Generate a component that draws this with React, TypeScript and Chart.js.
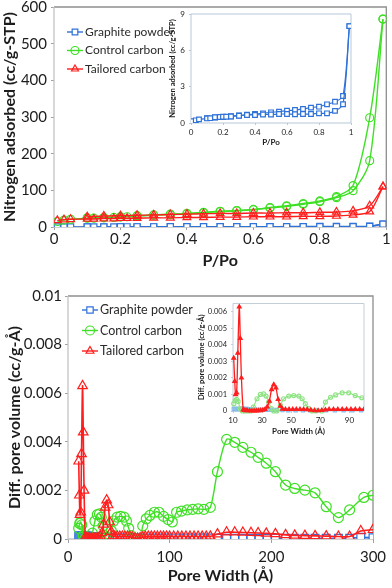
import React, { useEffect, useRef } from "react";
import { Chart, registerables } from "chart.js";

Chart.register(...registerables);

const FONT = "Lato, 'Open Sans', sans-serif";
const INK = "#1c1c1c";
const BLUE = "#2f72d8";
const GREEN = "#3ee024";
const RED = "#ff1e1e";
const LIGHT_BLUE = "#86bcec";
const LIGHT_GREEN = "#8fe384";
const NONE = "rgba(255,255,255,0)";

Chart.defaults.font.family = FONT;
Chart.defaults.color = INK;

const SERIES_NAMES = ["Graphite powder", "Control carbon", "Tailored carbon"];

// ---------- Top: nitrogen isotherms ----------
const P_ADS = [0.01, 0.03, 0.05, 0.1, 0.12, 0.15, 0.18, 0.2, 0.22, 0.25, 0.3, 0.35, 0.4, 0.45, 0.5, 0.55, 0.6, 0.65, 0.7, 0.75, 0.8, 0.85, 0.9, 0.95, 0.99];
const P_DES = [0.99, 0.95, 0.9, 0.85, 0.8, 0.75, 0.7, 0.65, 0.6, 0.55, 0.5, 0.45, 0.4, 0.35, 0.3, 0.25, 0.2, 0.15, 0.1];
const GRAPHITE_ADS = [0.15, 0.22, 0.3, 0.38, 0.4, 0.47, 0.5, 0.52, 0.52, 0.54, 0.6, 0.66, 0.66, 0.7, 0.7, 0.74, 0.74, 0.72, 0.74, 0.74, 0.8, 0.8, 1.0, 1.55, 8.0];
const GRAPHITE_DES = [8.0, 2.23, 1.76, 1.54, 1.35, 1.27, 1.16, 1.07, 1.02, 0.94, 0.88, 0.8, 0.74, 0.68, 0.62, 0.56, 0.5, 0.45, 0.4];
const CONTROL_ADS = [15, 19, 21, 24, 24, 25, 26, 27, 28, 30, 32, 34, 36, 39, 42, 44, 47, 52, 56, 62, 69, 80, 99, 181, 567];
const CONTROL_DES = [567, 298, 113, 83, 71, 64, 58, 53, 48, 45, 43, 40, 37, 35, 33, 31, 28, 26, 25];
const TAILORED_ADS = [18, 20, 21, 22, 22, 23, 23, 24, 24, 24, 25, 25, 26, 26, 27, 27, 28, 28, 28, 29, 29, 30, 33, 42, 110];
const TAILORED_DES = [110, 58, 44, 41, 40, 39, 39, 38, 38, 37, 37, 36, 35, 34, 33, 32, 31, 30, 28];

const ISO_X_TICKS = [0, 0.2, 0.4, 0.6, 0.8, 1];
const ISO_Y_TICKS = [0, 100, 200, 300, 400, 500, 600];
const ISO_INSET_Y_TICKS = [0, 3, 6, 9];

// ---------- Bottom: pore size distribution ----------
const CONTROL_W = [10.5, 11.5, 12.5, 13.5, 15, 16.5, 18, 20, 22, 24, 26.5, 28.8, 31, 32.7, 34.5, 36.4, 38, 40, 42.6, 44.8, 48.3, 51.7, 55.2, 57.5, 59.7, 62, 64.3, 67, 71, 73.5, 77, 80.5, 85, 89.5, 94, 98.5, 102.6, 106.8, 111.7, 117.3, 122.5, 128, 133.6, 140, 147, 156, 164, 172, 180, 187, 195, 204, 214, 223, 233, 243, 254, 266, 277, 291, 300];
const CONTROL_V = [0.00044, 0.00064, 0.0007, 0.00058, 0.00014, 0, 0, 0, 0, 0.00024, 0.00074, 0.001, 0.00103, 0.0009, 0.00054, 0.00014, 0, 0, 0.00034, 0.00074, 0.0009, 0.00093, 0.0009, 0.00074, 0.00044, 0.00014, 0, 0, 0, 0.00054, 0.00083, 0.00097, 0.0011, 0.0011, 0.00093, 0.0008, 0.0007, 0.0011, 0.00115, 0.0012, 0.00122, 0.00124, 0.00122, 0.0013, 0.00277, 0.0041, 0.00398, 0.00377, 0.00357, 0.00336, 0.00312, 0.00277, 0.00222, 0.00208, 0.00201, 0.0019, 0.00133, 0.00088, 0.0012, 0.00171, 0.0018];

const TAILORED_W = [10.5, 11.2, 11.8, 12.5, 13.3, 14.3, 15, 15.8, 17, 18, 19, 20, 21.5, 23, 24.5, 26, 27.5, 29, 30.5, 32, 33.5, 35, 36.5, 38, 39.5, 41, 42.5, 44, 46, 48.5, 51, 53.5, 56, 58.5, 61, 63.5, 66, 68.5, 71, 73.5, 76, 79, 82, 85, 88, 91, 94, 97, 100, 104, 108, 112, 116, 120, 124, 128, 132, 136, 140, 147, 156, 164, 172, 180, 187, 195, 204, 214, 223, 233, 243, 254, 266, 277, 288, 300];
const TAILORED_V = [0.0032, 0.0018, 0.001, 0.0011, 0.0035, 0.0063, 0.0044, 0.002, 0.00008, 0.00004, 0.00003, 0.00002, 0.00002, 0.00001, 0.00001, 0.00001, 0.00002, 0.00003, 0.00005, 0.0001, 0.00025, 0.0006, 0.0013, 0.0016, 0.0014, 0.0007, 0.0003, 0.00012, 0.0001, 0.0001, 0.0001, 0.0001, 0.0001, 0.0001, 0.00009, 0.00006, 0.00003, 0.00002, 0.00004, 0.00007, 0.0001, 0.0001, 0.0001, 0.0001, 0.0001, 0.0001, 0.0001, 0.0001, 0.0001, 0.0001, 0.0001, 0.0001, 0.0001, 0.0001, 0.0001, 0.0001, 0.0001, 0.0001, 0.00011, 0.0002, 0.00028, 0.00028, 0.00027, 0.00026, 0.00025, 0.00023, 0.00021, 0.00017, 0.00015, 0.00014, 0.00013, 0.00012, 0.0001, 0.0001, 0.00033, 0.00038];

const GRAPHITE_W = [10.5, 11.5, 12.5, 13.5, 14.5, 15.5, 16.5, 17.5, 18.5, 19.5, 21, 23, 25, 28, 31, 34, 37, 40, 44, 48, 53, 58, 63, 68, 74, 80, 86, 92, 98, 104, 110, 116, 122, 128, 134, 140, 147, 156, 164, 172, 180, 188, 196, 204, 214, 223, 233, 243, 254, 266, 277, 288, 300];
const GRAPHITE_V = [0.00012, 0.00012, 0.00012, 0.00012, 0.00012, 0.00012, 0.00012, 0.00012, 0.00012, 0.00012, 0.0001, 0.0001, 0.00009, 0.00008, 0.00008, 0.00007, 0.00007, 0.00006, 0.00005, 0.00004, 0.00004, 0.00004, 0.00004, 0.00004, 0.00004, 0.00004, 0.00004, 0.00004, 0.00004, 0.00004, 0.00004, 0.00004, 0.00004, 0.00004, 0.00004, 0.00004, 0.00003, 0.00003, 0.00003, 0.00003, 0.00003, 0.00003, 0.00003, 0.00003, 0.00003, 0.00003, 0.00003, 0.00003, 0.00003, 0.00003, 0.00003, 0.00007, 0.00005];

const PORE_X_TICKS = [0, 100, 200, 300];
const PORE_Y_TICKS = [0, 0.002, 0.004, 0.006, 0.008, 0.01];
const PORE_INSET_X_TICKS = [10, 30, 50, 70, 90];
const PORE_INSET_Y_TICKS = [0, 0.001, 0.002, 0.003, 0.004, 0.005, 0.006];

// ---------- helpers ----------
const fmt = (v: any) => String(Number(Number(v).toPrecision(6)));
const pts = (xs: number[], ys: number[]) => xs.map((x, i) => ({ x, y: ys[i] }));

function series(data: any[], color: string, style: string, r: number, lw: number, fill: string, extra: any = {}) {
  return {
    data,
    showLine: true,
    borderColor: color,
    backgroundColor: color,
    borderWidth: lw,
    tension: 0.3,
    pointStyle: style,
    pointRadius: r,
    pointHoverRadius: r,
    pointBorderColor: color,
    pointBackgroundColor: fill,
    pointBorderWidth: 1.2,
    ...extra,
  };
}

function axis(o: any) {
  return {
    type: "linear",
    min: o.min,
    max: o.max,
    afterBuildTicks: (s: any) => {
      s.ticks = o.ticks.map((v: number) => ({ value: v }));
    },
    afterFit: (s: any) => {
      if (o.w !== undefined) s.width = o.w;
      if (o.h !== undefined) s.height = o.h;
    },
    ticks: { font: { family: FONT, size: o.fs }, color: INK, padding: o.tp, callback: fmt, autoSkip: false, maxRotation: 0, minRotation: 0 },
    grid: { drawOnChartArea: false, drawTicks: true, tickLength: o.tl, color: o.gc || "#a0a0a0" },
    border: { display: false },
    title: { display: true, text: o.title, color: INK, font: { family: FONT, size: o.tfs, weight: "bold" }, padding: o.tpad },
  };
}

const framePlugin = {
  id: "frame",
  beforeDatasetsDraw(chart: any, _a: any, o: any) {
    if (!o || !o.outer) return;
    const { left, top, right, bottom } = chart.chartArea;
    const ctx = chart.ctx;
    ctx.save();
    ctx.lineWidth = o.width || 1;
    ctx.strokeStyle = o.outer;
    ctx.beginPath();
    ctx.moveTo(left, top);
    ctx.lineTo(right, top);
    ctx.lineTo(right, bottom);
    ctx.stroke();
    ctx.strokeStyle = o.axes || o.outer;
    ctx.beginPath();
    ctx.moveTo(left, top);
    ctx.lineTo(left, bottom);
    ctx.lineTo(right, bottom);
    ctx.stroke();
    ctx.restore();
  },
};

function drawMarker(ctx: CanvasRenderingContext2D, style: string, x: number, y: number, r: number, color: string) {
  ctx.save();
  ctx.strokeStyle = color;
  ctx.lineWidth = 1.2;
  ctx.fillStyle = "#fff";
  ctx.beginPath();
  if (style === "rect") {
    const s = r * Math.SQRT1_2;
    ctx.rect(x - s, y - s, 2 * s, 2 * s);
    ctx.fill();
  } else if (style === "circle") {
    ctx.arc(x, y, r, 0, Math.PI * 2);
  } else {
    for (let k = 0; k < 3; k++) {
      const a = -Math.PI / 2 + (k * 2 * Math.PI) / 3;
      const px = x + r * Math.cos(a);
      const py = y + r * Math.sin(a);
      if (k === 0) ctx.moveTo(px, py);
      else ctx.lineTo(px, py);
    }
    ctx.closePath();
  }
  ctx.stroke();
  ctx.restore();
}

const keyPlugin = {
  id: "key",
  afterDraw(chart: any, _a: any, o: any) {
    if (!o || !o.items) return;
    const ctx = chart.ctx;
    o.items.forEach((it: any, i: number) => {
      const y = o.y + i * o.gap;
      ctx.save();
      ctx.strokeStyle = it.color;
      ctx.lineWidth = o.lw;
      ctx.beginPath();
      ctx.moveTo(o.x, y);
      ctx.lineTo(o.x + o.len, y);
      ctx.stroke();
      drawMarker(ctx, it.style, o.x + o.len / 2, y, o.r, it.color);
      ctx.fillStyle = "#2a2a2a";
      ctx.font = `${o.size}px ${FONT}`;
      ctx.textBaseline = "middle";
      ctx.textAlign = "left";
      ctx.fillText(it.label, o.x + o.len + o.gapText, y);
      ctx.restore();
    });
  },
};

const KEY_ITEMS = [
  { label: SERIES_NAMES[0], color: BLUE, style: "rect" },
  { label: SERIES_NAMES[1], color: GREEN, style: "circle" },
  { label: SERIES_NAMES[2], color: RED, style: "triangle" },
];

function baseOptions(padding: any) {
  return {
    animation: false,
    responsive: false,
    maintainAspectRatio: false,
    events: [],
    layout: { padding },
  };
}

// ---------- chart configs ----------
function topMainConfig(): any {
  return {
    type: "scatter",
    data: {
      datasets: [
        series(pts(P_ADS, TAILORED_ADS), RED, "triangle", 4.5, 1.4, NONE),
        series(pts(P_DES, TAILORED_DES), RED, "triangle", 4.5, 1.4, NONE),
        series(pts(P_ADS, CONTROL_ADS), GREEN, "circle", 4, 1.4, NONE),
        series(pts(P_DES, CONTROL_DES), GREEN, "circle", 4, 1.4, NONE),
        series(pts(P_ADS, GRAPHITE_ADS), BLUE, "rect", 4.3, 1.4, "#fff"),
        series(pts(P_DES, GRAPHITE_DES), BLUE, "rect", 4.3, 1.4, "#fff"),
      ],
    },
    options: {
      ...baseOptions({ top: 17, right: 5, left: 0, bottom: 0 }),
      plugins: {
        legend: { display: false },
        tooltip: { enabled: false },
        frame: { outer: "#8e8e8e", axes: "#c4c4c4", width: 1.3 },
        key: { items: KEY_ITEMS, x: 67, y: 42, gap: 18.5, len: 16, lw: 1.4, r: 4, size: 12, gapText: 2 },
      },
      scales: {
        x: axis({ min: 0, max: 1, ticks: ISO_X_TICKS, fs: 15, tp: 0, tl: 3, title: "P/Po", tfs: 16, tpad: { top: 0, bottom: 15 }, h: 58 }),
        y: axis({ min: 0, max: 600, ticks: ISO_Y_TICKS, fs: 15, tp: 4, tl: 3, title: "Nitrogen adsorbed (cc/g-STP)", tfs: 16, tpad: { top: 0, bottom: 0 }, w: 54 }),
      },
    },
    plugins: [framePlugin, keyPlugin],
  };
}

function topInsetConfig(): any {
  return {
    type: "scatter",
    data: {
      datasets: [
        series(pts(P_ADS, GRAPHITE_ADS), BLUE, "rect", 3.3, 1.2, "#fff"),
        series(pts(P_DES, GRAPHITE_DES), BLUE, "rect", 3.3, 1.2, "#fff"),
      ],
    },
    options: {
      ...baseOptions({ top: 9, right: 9, left: 0, bottom: 0 }),
      plugins: {
        legend: { display: false },
        tooltip: { enabled: false },
        frame: { outer: "#b7c7d8", axes: "#b7c7d8", width: 1 },
      },
      scales: {
        x: axis({ min: 0, max: 1, ticks: ISO_X_TICKS, fs: 8, tp: 3, tl: 2, gc: "#b7c7d8", title: "P/Po", tfs: 8, tpad: { top: 0, bottom: 3 }, h: 27 }),
        y: axis({ min: 0, max: 9, ticks: ISO_INSET_Y_TICKS, fs: 8, tp: 4, tl: 2, gc: "#b7c7d8", title: "Nitrogen adsorbed (cc/g-STP)", tfs: 7.5, tpad: { top: 8, bottom: 0 }, w: 31 }),
      },
    },
    plugins: [framePlugin],
  };
}

function bottomMainConfig(): any {
  return {
    type: "scatter",
    data: {
      datasets: [
        series(pts(TAILORED_W, TAILORED_V), RED, "triangle", 5.5, 1.6, NONE),
        series(pts(CONTROL_W, CONTROL_V), GREEN, "circle", 5, 1.4, NONE),
        series(pts(GRAPHITE_W, GRAPHITE_V), BLUE, "rect", 5.5, 1.6, "#fff"),
      ],
    },
    options: {
      ...baseOptions({ top: 16, right: 19, left: 0, bottom: 0 }),
      plugins: {
        legend: { display: false },
        tooltip: { enabled: false },
        frame: { outer: "#8e8e8e", axes: "#c4c4c4", width: 1.3 },
        key: { items: KEY_ITEMS, x: 82, y: 30, gap: 20.5, len: 16, lw: 1.4, r: 4.5, size: 12.5, gapText: 2 },
      },
      scales: {
        x: axis({ min: 0, max: 300, ticks: PORE_X_TICKS, fs: 15, tp: 5, tl: 4, title: "Pore Width (Å)", tfs: 16, tpad: { top: 0, bottom: 3 }, h: 49 }),
        y: axis({ min: 0, max: 0.01, ticks: PORE_Y_TICKS, fs: 15, tp: 3, tl: 3, title: "Diff. pore volume (cc/g-Å)", tfs: 16, tpad: { top: 5, bottom: 0 }, w: 68 }),
      },
    },
    plugins: [framePlugin, keyPlugin],
  };
}

function bottomInsetConfig(): any {
  const clip = { left: 3, top: 3, right: 0, bottom: 3 };
  return {
    type: "scatter",
    data: {
      datasets: [
        series(pts(TAILORED_W, TAILORED_V), RED, "triangle", 2.2, 1.3, RED, { clip }),
        series(pts(CONTROL_W, CONTROL_V), LIGHT_GREEN, "circle", 2, 1.1, NONE, { clip }),
        series(pts(GRAPHITE_W, GRAPHITE_V), LIGHT_BLUE, "rect", 2.2, 1.1, NONE, { clip }),
      ],
    },
    options: {
      ...baseOptions({ top: 7, right: 8, left: 0, bottom: 0 }),
      plugins: {
        legend: { display: false },
        tooltip: { enabled: false },
        frame: { outer: "#c3ced9", axes: "#c3ced9", width: 1 },
      },
      scales: {
        x: axis({ min: 10, max: 100, ticks: PORE_INSET_X_TICKS, fs: 8, tp: 3, tl: 2, gc: "#c3ced9", title: "Pore Width (Å)", tfs: 8, tpad: { top: 0, bottom: 4 }, h: 29 }),
        y: axis({ min: 0, max: 0.0065, ticks: PORE_INSET_Y_TICKS, fs: 7.5, tp: 4, tl: 2, gc: "#c3ced9", title: "Diff. pore volume (cc/g-Å)", tfs: 7.5, tpad: { top: 2, bottom: 0 }, w: 38 }),
      },
    },
    plugins: [framePlugin],
  };
}

function ChartBox({ x, y, w, h, make }: { x: number; y: number; w: number; h: number; make: () => any }) {
  const ref = useRef<HTMLCanvasElement | null>(null);
  useEffect(() => {
    if (!ref.current) return;
    const chart = new Chart(ref.current, make());
    return () => chart.destroy();
  }, []);
  return (
    <canvas
      ref={ref}
      width={w}
      height={h}
      style={{ position: "absolute", left: x, top: y, width: w, height: h }}
    />
  );
}

export default function App() {
  return (
    <div style={{ position: "absolute", left: 0, top: 0, width: 392, height: 588, background: "#fff", overflow: "hidden" }}>
      <ChartBox x={0} y={-10} w={392} h={295} make={topMainConfig} />
      <ChartBox x={0} y={280} w={392} h={308} make={bottomMainConfig} />
      <ChartBox x={160} y={5} w={200} h={145} make={topInsetConfig} />
      <ChartBox x={195} y={295} w={177} h={145} make={bottomInsetConfig} />
    </div>
  );
}
